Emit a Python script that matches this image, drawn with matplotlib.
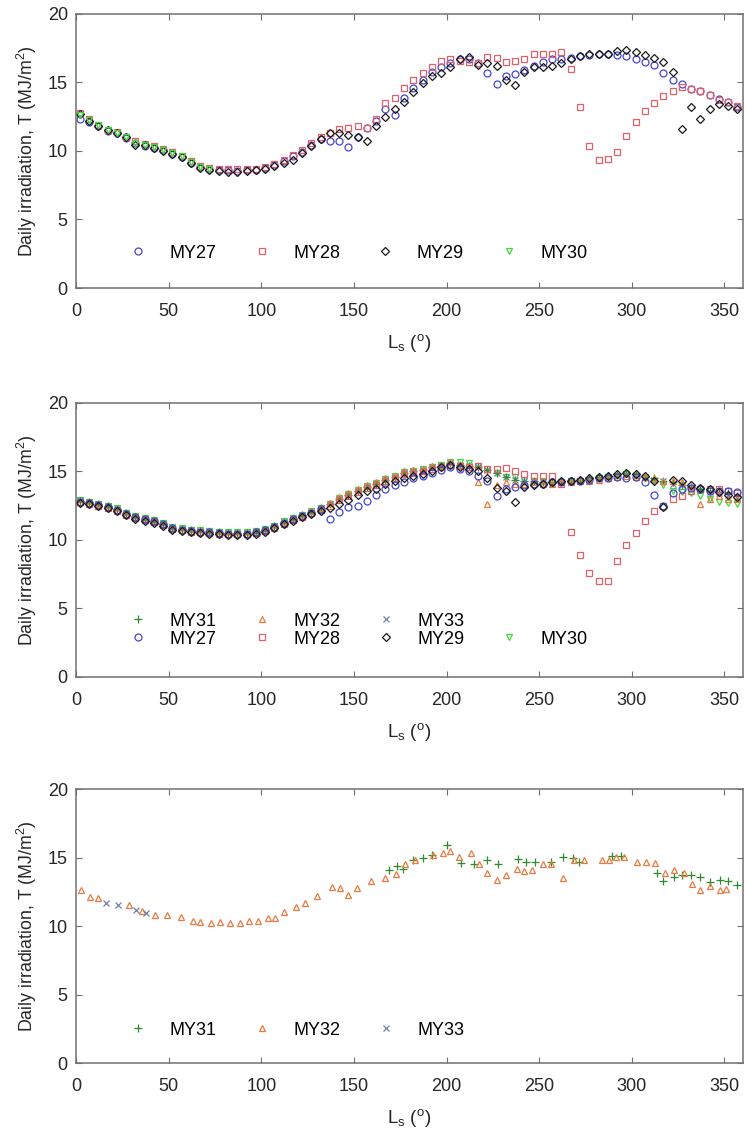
import numpy as np
import matplotlib
matplotlib.use("Agg")
import matplotlib.pyplot as plt
from matplotlib.lines import Line2D

plt.rcParams['font.family'] = ['Liberation Sans', 'DejaVu Sans']
plt.rcParams['mathtext.default'] = 'regular'

# ------------------------------------------------------------
# Solar longitude grid (deg) shared by the model-style series
# ------------------------------------------------------------
LS = np.arange(2, 360, 5)
nan = np.nan

# ---------------- panel 1: MY27-MY30 ----------------
MY27_A = [12.35, 12.1, 11.8, 11.45, 11.3, 10.95, 10.55, 10.4, 10.25, 10.05, 9.8, 9.55,
          9.15, 8.8, 8.65, 8.6, 8.6, 8.55, 8.6, 8.6, 8.75, 8.95, 9.25, 9.6,
          9.95, 10.45, 10.9, 10.75, 10.7, 10.3, 11.0, 11.7, 12.2, 13.1, 12.6, 13.9,
          14.6, 15.2, 15.8, 16.1, 16.4, 16.7, 16.7, 16.4, 15.7, 14.9, 15.5, 15.6,
          15.9, 16.2, 16.5, 16.7, 16.7, 16.8, 16.9, 17.0, 17.1, 17.1, 17.0, 16.9,
          16.7, 16.5, 16.3, 15.7, 15.2, 14.9, 14.5, 14.35, 14.1, 13.8, 13.6, 13.2]
MY28_A = [12.8, 12.3, 11.9, 11.55, 11.35, 11.05, 10.7, 10.5, 10.35, 10.15, 9.9, 9.65,
          9.25, 8.9, 8.75, 8.7, 8.7, 8.65, 8.7, 8.7, 8.85, 9.05, 9.35, 9.7,
          10.05, 10.55, 11.05, 11.3, 11.6, 11.7, 11.8, 11.7, 12.3, 13.5, 13.9, 14.6,
          15.2, 15.7, 16.1, 16.6, 16.7, 16.6, 16.5, 16.4, 16.85, 16.8, 16.5, 16.6,
          16.7, 17.1, 17.1, 17.1, 17.2, 15.95, 13.2, 10.4, 9.35, 9.4, 9.9, 11.1,
          12.1, 12.9, 13.5, 14.0, 14.35, 14.7, 14.5, 14.35, 14.1, 13.7, 13.6, 13.3]
MY29_A = [12.7, 12.2, 11.85, 11.5, 11.3, 11.0, 10.45, 10.45, 10.2, 10.0, 9.8, 9.55,
          9.1, 8.75, 8.6, 8.55, 8.5, 8.5, 8.55, 8.6, 8.7, 8.9, 9.1, 9.35,
          9.85, 10.35, 10.9, 11.3, 11.3, 11.2, 11.0, 10.7, 11.8, 12.5, 13.1, 13.6,
          14.3, 14.95, 15.5, 15.7, 16.1, 16.7, 16.85, 16.3, 16.4, 16.2, 15.2, 14.8,
          15.8, 16.1, 16.1, 16.2, 16.4, 16.7, 16.9, 17.1, 17.1, 17.1, 17.3, 17.4,
          17.2, 17.0, 16.8, 16.5, 15.8, 11.6, 13.2, 12.3, 13.1, 13.4, 13.3, 13.1]
MY30_A = [12.6, 12.25, 11.9, 11.5, 11.3, 11.0, 10.6, 10.45, 10.3, 10.1, 9.85, 9.6,
          9.2, 8.85, 8.7] + [nan] * 57

# ---------------- panel 2: MY27-MY33 ----------------
MY27_B = [12.8, 12.7, 12.55, 12.4, 12.2, 11.9, 11.65, 11.5, 11.35, 11.15, 10.85, 10.75,
          10.65, 10.6, 10.55, 10.5, 10.45, 10.45, 10.45, 10.55, 10.7, 10.95, 11.25, 11.5,
          11.75, 12.0, 12.25, 11.55, 12.05, 12.4, 12.5, 12.85, 13.3, 13.7, 14.0, 14.2,
          14.5, 14.7, 14.9, 15.1, 15.3, 15.2, 15.0, 14.7, 14.3, 13.2, 13.7, 13.9,
          14.0, 14.1, 14.1, 14.2, 14.2, 14.3, 14.3, 14.4, 14.5, 14.5, 14.6, 14.55,
          14.6, 14.2, 13.3, 12.5, 13.4, 13.7, 13.8, 13.7, 13.6, 13.6, 13.6, 13.5]
MY28_B = [12.75, 12.65, 12.5, 12.35, 12.15, 11.85, 11.6, 11.45, 11.3, 11.1, 10.8, 10.7,
          10.6, 10.55, 10.5, 10.45, 10.4, 10.4, 10.4, 10.5, 10.65, 10.9, 11.2, 11.45,
          11.7, 11.95, 12.2, 12.5, 12.9, 13.2, 13.5, 13.8, 14.0, 14.3, 14.5, 14.8,
          14.9, 15.0, 15.2, 15.3, 15.5, 15.4, 15.3, 15.4, 15.2, 15.2, 15.25, 15.0,
          14.8, 14.7, 14.7, 14.7, 14.1, 10.6, 8.9, 7.6, 7.0, 7.0, 8.45, 9.6,
          10.5, 11.4, 12.1, 12.5, 13.0, 13.2, 13.6, 13.7, 13.7, 13.7, 13.6, 13.4]
MY29_B = [12.7, 12.6, 12.45, 12.3, 12.1, 11.8, 11.55, 11.4, 11.25, 11.05, 10.75, 10.65,
          10.55, 10.5, 10.45, 10.4, 10.35, 10.35, 10.35, 10.45, 10.6, 10.85, 11.15, 11.4,
          11.65, 11.9, 12.15, 12.3, 12.65, 12.95, 13.25, 13.55, 13.75, 14.05, 14.3, 14.55,
          14.7, 14.8, 15.0, 15.3, 15.5, 15.3, 15.2, 15.0, 14.5, 13.8, 13.6, 12.8,
          13.9, 14.0, 14.1, 14.2, 14.3, 14.3, 14.4, 14.5, 14.6, 14.7, 14.8, 14.9,
          14.8, 14.7, 14.3, 12.4, 14.4, 14.3, 14.0, 13.8, 13.7, 13.5, 13.3, 13.1]
MY30_B = [12.9, 12.8, 12.65, 12.5, 12.3, 12.0, 11.75, 11.6, 11.45, 11.25, 10.95, 10.85,
          10.75, 10.7, 10.65, 10.6, 10.55, 10.55, 10.55, 10.65, 10.8, 11.05, 11.35, 11.6,
          11.85, 12.1, 12.35, 12.65, 13.05, 13.35, 13.65, 13.95, 14.15, 14.45, 14.65, 14.95,
          15.05, 15.15, 15.35, 15.5, 15.7, 15.7, 15.6, 15.4, 15.2, 14.9, 14.6, 14.6,
          14.4, 14.3, 14.3, 14.2, 14.2, 14.3, 14.3, 14.4, 14.5, 14.6, 14.7, 14.8,
          14.7, 14.5, 14.3, 14.0, 13.6, 13.5, 13.4, 13.2, 13.0, 12.8, 12.7, 12.6]
MY31_B = [12.85, 12.75, 12.6, 12.45, 12.25, 11.95, 11.7, 11.55, 11.4, 11.2, 10.9, 10.8,
          10.7, 10.65, 10.6, 10.55, 10.5, 10.5, 10.5, 10.6, 10.75, 11.0, 11.3, 11.55,
          11.8, 12.05, 12.3, 12.6, 13.0, 13.3, 13.6, 13.9, 14.1, 14.4, 14.6, 14.9,
          15.0, 15.1, 15.3, 15.4, 15.6, 15.5, 15.4, 15.3, 15.1, 14.9, 14.6, 14.4,
          14.3, 14.3, 14.2, 14.2, 14.3, 14.3, 14.4, 14.5, 14.6, 14.7, 14.8, 14.9,
          14.8, 14.6, 14.5, 14.3, 14.2, 14.0, 13.9, 13.7, 13.6, 13.5, 13.4, 13.2]
MY32_B = [12.8, 12.7, 12.6, 12.4, 12.2, 11.9, 11.65, 11.5, 11.35, 11.15, 10.85, 10.75,
          10.65, 10.6, 10.55, 10.5, 10.45, 10.45, 10.45, 10.55, 10.7, 10.95, 11.3, 11.55,
          11.8, 12.1, 12.35, 12.7, 13.1, 13.4, 13.7, 14.0, 14.2, 14.5, 14.7, 15.0,
          15.1, 15.2, 15.4, 15.5, 15.7, 15.5, 15.3, 14.2, 12.6, 14.0, 14.2, 14.1,
          14.1, 14.2, 14.1, 14.1, 14.2, 14.2, 14.3, 14.3, 14.4, 14.5, 14.6, 14.7,
          14.6, 14.6, 14.5, 14.3, 14.3, 14.2, 13.9, 12.6, 13.0, 13.2, 13.0, 13.0]
MY33_B = [12.9, 12.75, 12.6, 12.45, 12.25, 11.95, 11.7, 11.55, 11.4, 11.2, 10.9, 10.8,
          10.7, 10.65, 10.6, 10.55, 10.5, 10.5, 10.5, 10.6, 10.75, 11.0, 11.3, 11.55,
          11.8, 12.05, 12.3, 12.6, 13.0, 13.3, 13.6, 13.9, 14.1, 14.4, 14.6, 14.9,
          15.0, 15.1, 15.3, 15.4, 15.6, 15.5, 15.4, 15.3, 15.1, 14.9, 14.6, 14.4,
          14.3, 14.2, 14.2, 14.1, 14.2, 14.2, 14.3, 14.4, 14.5, 14.6, 14.7, 14.8,
          14.7, 14.6, 14.4, 14.3, 14.1, 14.0, 13.8, 13.7, 13.5, 13.4, 13.3, 13.1]

# ---------------- panel 3: MY31-MY33 (irregular sampling) ----------------
MY31_C_LS = [169, 173.3, 176.5, 182, 187.3, 192.3, 200.4, 207.9, 215, 221.6, 227.6,
             238.3, 242.8, 247.8, 256.3, 262.6, 268, 271.4, 289.4, 294.4, 313.4, 317,
             323, 326.9, 332, 336.8, 342, 347.6, 352, 357]
MY31_C = [14.06, 14.4, 14.2, 14.8, 15.0, 15.2, 15.9, 14.6, 14.5, 14.8, 14.55,
          14.9, 14.7, 14.7, 14.7, 15.03, 14.96, 14.7, 15.1, 15.1, 13.9, 13.3,
          13.6, 13.7, 13.7, 13.6, 13.2, 13.4, 13.3, 13.0]
MY32_C_LS = [2.7, 7.7, 11.6, 28.7, 35.8, 42.7, 49.3, 56.8, 63.3, 66.8, 72.9, 77.6,
             83.3, 88.7, 93.2, 98.2, 103.6, 107.5, 112.4, 118.8, 123.3, 129.9, 138,
             142.5, 147, 151.4, 159, 166.6, 172.9, 177.4, 182.8, 192.6, 198, 201.6,
             206.6, 213.3, 217.7, 222, 227, 232, 238, 242, 246, 252, 256.4, 262.6,
             268.8, 273.9, 283.7, 287.6, 291.6, 296, 302.9, 307.7, 312.4, 317.7, 323,
             328, 332.4, 337, 342, 347.6, 351]
MY32_C = [12.65, 12.1, 12.06, 11.57, 11.1, 10.8, 10.8, 10.64, 10.4, 10.3, 10.24, 10.3,
          10.24, 10.2, 10.35, 10.35, 10.6, 10.6, 11.03, 11.4, 11.68, 12.2, 12.85,
          12.8, 12.3, 12.8, 13.3, 13.5, 13.8, 14.5, 14.83, 15.2, 15.3, 15.5,
          15.03, 15.3, 14.5, 13.9, 13.4, 13.7, 14.2, 14.0, 14.1, 14.5, 14.5, 13.5,
          14.8, 14.8, 14.8, 14.8, 15.03, 15.03, 14.7, 14.7, 14.6, 13.9, 14.1,
          13.9, 13.1, 12.65, 12.9, 12.65, 12.7]
MY33_C_LS = [16.1, 22.4, 32.3, 37.6]
MY33_C = [11.7, 11.57, 11.2, 10.95]

# marker styles per Mars year
STYLE = {
    'MY27': dict(marker='o', color='#4646d2'),
    'MY28': dict(marker='s', color='#e0606a'),
    'MY29': dict(marker='D', color='#1a1a1a'),
    'MY30': dict(marker='v', color='#3ddc3d'),
    'MY31': dict(marker='+', color='#2e8b2e'),
    'MY32': dict(marker='^', color='#ea7a40'),
    'MY33': dict(marker='x', color='#7080a8'),
}
MSIZE = {'o': 5, 's': 4.3, 'D': 3.8, 'v': 5, '+': 5.5, '^': 5, 'x': 4}

AX_GREY = '#707070'
TXT = '#262626'


def draw_series(ax, x, y, name):
    st = STYLE[name]
    h, = ax.plot(x, y, linestyle='none', marker=st['marker'],
                 markersize=MSIZE[st['marker']], markerfacecolor='none',
                 markeredgecolor=st['color'], markeredgewidth=0.9, label=name)
    return h


def style_axes(ax):
    ax.set_xlim(0, 360)
    ax.set_ylim(0, 20)
    ax.set_xticks(np.arange(0, 351, 50))
    ax.set_yticks(np.arange(0, 21, 5))
    ax.tick_params(direction='in', length=4, width=0.8, color=AX_GREY,
                   labelsize=13, labelcolor=TXT, top=True, right=True)
    ax.tick_params(axis='x', pad=10.5)
    ax.tick_params(axis='y', pad=6)
    for sp in ax.spines.values():
        sp.set_color(AX_GREY)
        sp.set_linewidth(1.1)
    ax.set_xlabel(r'L$_s$ ($^o$)', fontsize=13.5, color=TXT, labelpad=9)
    ax.set_ylabel(r'Daily irradiation, T (MJ/m$^2$)', fontsize=12.8,
                  color=TXT, labelpad=6)


fig = plt.figure(figsize=(7.46, 11.37), dpi=100)
left, width, height = 0.102, 0.894, 0.241
ax1 = fig.add_axes([left, 0.7467, width, height])
ax2 = fig.add_axes([left, 0.4046, width, height])
ax3 = fig.add_axes([left, 0.065, width, height])

leg_kw = dict(frameon=False, fontsize=13, handlelength=2.0, handletextpad=0.75,
              columnspacing=1.5, borderaxespad=0, labelspacing=0.05)

# ---- panel 1
h27 = draw_series(ax1, LS, MY27_A, 'MY27')
h28 = draw_series(ax1, LS, MY28_A, 'MY28')
h29 = draw_series(ax1, LS, MY29_A, 'MY29')
h30 = draw_series(ax1, LS, MY30_A, 'MY30')
style_axes(ax1)
ax1.legend([h27, h28, h29, h30], ['MY27', 'MY28', 'MY29', 'MY30'], ncol=4,
           loc='center left', bbox_to_anchor=(0.055, 0.127), **leg_kw)

# ---- panel 2
g30 = draw_series(ax2, LS, MY30_B, 'MY30')
g33 = draw_series(ax2, LS, MY33_B, 'MY33')
g31 = draw_series(ax2, LS, MY31_B, 'MY31')
g32 = draw_series(ax2, LS, MY32_B, 'MY32')
g28 = draw_series(ax2, LS, MY28_B, 'MY28')
g27 = draw_series(ax2, LS, MY27_B, 'MY27')
g29 = draw_series(ax2, LS, MY29_B, 'MY29')
style_axes(ax2)
blank = Line2D([], [], linestyle='none', marker='')
ax2.legend([g31, g27, g32, g28, g33, g29, blank, g30],
           ['MY31', 'MY27', 'MY32', 'MY28', 'MY33', 'MY29', ' ', 'MY30'], ncol=4,
           loc='center left', bbox_to_anchor=(0.055, 0.171), **leg_kw)

# ---- panel 3
k31 = draw_series(ax3, MY31_C_LS, MY31_C, 'MY31')
k32 = draw_series(ax3, MY32_C_LS, MY32_C, 'MY32')
k33 = draw_series(ax3, MY33_C_LS, MY33_C, 'MY33')
style_axes(ax3)
ax3.legend([k31, k32, k33], ['MY31', 'MY32', 'MY33'], ncol=3,
           loc='center left', bbox_to_anchor=(0.055, 0.12), **leg_kw)

fig.savefig('out.png', dpi=100)
